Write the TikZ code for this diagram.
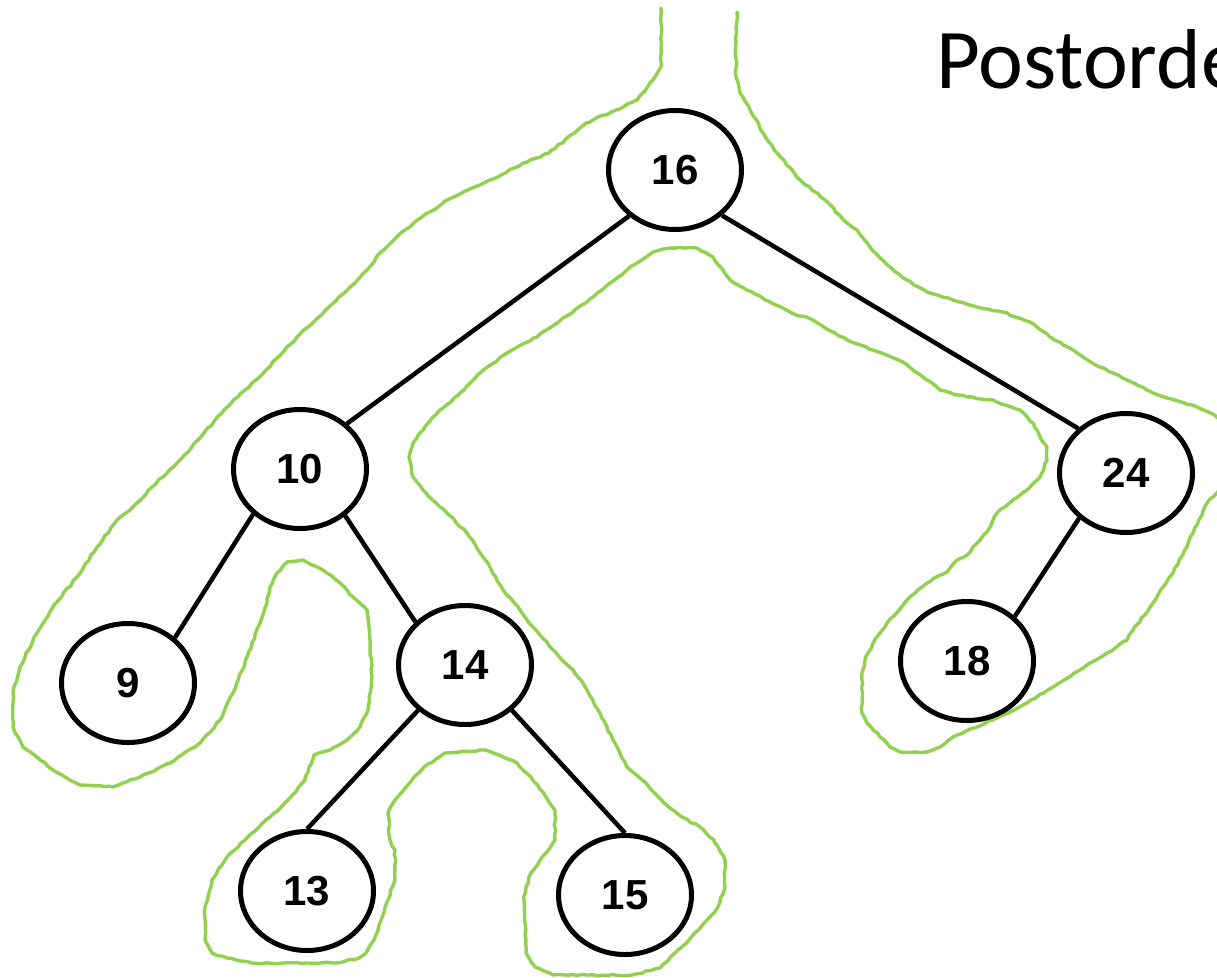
\documentclass[tikz,border=0pt]{standalone}
\usepackage{fontspec}
\setmainfont{Liberation Sans}
\newfontfamily\titlefont{Carlito}
\usetikzlibrary{shapes.geometric,decorations.pathmorphing}
\definecolor{tourgreen}{HTML}{92D050}
\begin{document}
\begin{tikzpicture}[x=1pt,y=-1pt,
  tnode/.style={ellipse,draw=black,line width=5pt,minimum width=133pt,minimum height=119pt,inner sep=0pt,
    font=\bfseries\fontsize{42}{48}\selectfont},
  edge/.style={draw=black,line width=4.5pt},
  tour/.style={draw=tourgreen,line width=3.4pt,line join=round,line cap=round,
    decorate,decoration={random steps,segment length=5pt,amplitude=0.8pt}}]
\pgfmathsetseed{7}
\useasboundingbox (0,0) rectangle (1217,977);
\clip (0,0) rectangle (1217,977);
\fill[white] (0,0) rectangle (1217,977);

% Euler-tour outline
\draw[tour] (661,8) -- (661,67) -- (650,83) -- (637,100) -- (616,110) -- (586,123) -- (549,153) -- (523,163) -- (498,177) -- (468,190) -- (443,203) -- (422,217) -- (405,230) -- (380,253) -- (367,270) -- (350,287) -- (329,307) -- (308,327) -- (287,347) -- (266,370) -- (245,390) -- (224,410) -- (198,440) -- (177,463) -- (152,487) -- (130,510) -- (117,520) -- (97,547) -- (77,577) -- (53,607) -- (33,640) -- (20,667) -- (13,693) -- (13,727) -- (23,747) -- (40,760) -- (53,770) -- (80,785) -- (113,787) -- (140,777) -- (170,763) -- (200,743) -- (220,720) -- (233,693) -- (247,657) -- (260,623) -- (267,603) -- (270,587) -- (277,573) -- (287,562) -- (303,560) -- (323,570) -- (340,583) -- (353,597) -- (367,610) -- (370,640) -- (372,677) -- (368,710) -- (360,727) -- (347,740) -- (330,750) -- (314,755) -- (309,767) -- (305,780) -- (288,800) -- (270,817) -- (259,827) -- (245,840) -- (227,857) -- (212,880) -- (205,907) -- (205,940) -- (212,953) -- (227,958) -- (252,963) -- (334,963) -- (359,958) -- (366,953) -- (374,940) -- (381,920) -- (388,900) -- (395,880) -- (395,850) -- (390,840) -- (388,813) -- (395,800) -- (406,787) -- (424,767) -- (445,753) -- (485,750) -- (503,757) -- (517,763) -- (531,777) -- (546,797) -- (555,810) -- (555,840) -- (546,853) -- (531,873) -- (526,887) -- (524,900) -- (526,953) -- (535,967) -- (553,975) -- (632,975) -- (660,968) -- (675,953) -- (689,940) -- (707,920) -- (718,907) -- (725,887) -- (725,860) -- (714,840) -- (700,827) -- (682,817) -- (664,803) -- (646,783) -- (627,767) -- (613,740) -- (600,713) -- (587,690) -- (573,670) -- (553,650) -- (533,627) -- (520,610) -- (503,590) -- (490,567) -- (480,553) -- (467,533) -- (447,513) -- (423,490) -- (413,477) -- (409,457) -- (413,443) -- (423,430) -- (432,418) -- (443,408) -- (460,393) -- (480,373) -- (507,353) -- (537,337) -- (563,318) -- (587,302) -- (610,283) -- (627,270) -- (653,252) -- (670,248) -- (697,248) -- (713,257) -- (730,280) -- (747,290) -- (770,302) -- (790,312) -- (813,320) -- (847,340) -- (873,350) -- (903,362) -- (940,390) -- (967,397) -- (993,400) -- (1020,410) -- (1033,423) -- (1040,437) -- (1047,447) -- (1047,460) -- (1040,477) -- (1027,490) -- (1013,500) -- (997,513) -- (987,532) -- (980,540) -- (967,555) -- (957,560) -- (947,572) -- (927,583) -- (907,600) -- (887,623) -- (873,643) -- (865,660) -- (862,673) -- (862,713) -- (867,723) -- (880,737) -- (890,747) -- (900,752) -- (927,752) -- (940,747) -- (953,737) -- (993,720) -- (1027,703) -- (1053,687) -- (1080,670) -- (1107,653) -- (1127,640) -- (1133,630) -- (1150,607) -- (1163,587) -- (1173,573) -- (1193,533) -- (1207,503) -- (1217,493) -- (1240,455) -- (1217,417) -- (1197,407) -- (1167,398) -- (1147,390) -- (1127,380) -- (1100,367) -- (1077,353) -- (1050,337) -- (1030,322) -- (1003,312) -- (977,307) -- (953,300) -- (927,292) -- (907,280) -- (890,267) -- (870,247) -- (857,230) -- (847,223) -- (825,200) -- (800,180) -- (777,153) -- (763,133) -- (750,110) -- (740,93) -- (736,77) -- (736,43) -- (737,12);

% tree nodes
\node[tnode] (n16) at (675,170) {16};
\node[tnode] (n10) at (300,469) {10};
\node[tnode] (n9)  at (128,683) {9};
\node[tnode] (n14) at (465,665) {14};
\node[tnode] (n13) at (307,891) {13};
\node[tnode] (n15) at (625,895) {15};
\node[tnode] (n24) at (1126,473) {24};
\node[tnode] (n18) at (967,661) {18};

% edges
\draw[edge] (n16.225) -- (n10.44);
\draw[edge] (n16.316) -- (n24.137);
\draw[edge] (n10.224) -- (n9.44);
\draw[edge] (n10.314) -- (n14.139);
\draw[edge] (n14.224) -- (n13.90);
\draw[edge] (n14.316) -- (n15.90);
\draw[edge] (n24.224) -- (n18.43);

% title
\node[anchor=base west,inner sep=0pt,font=\titlefont\fontsize{85}{100}\selectfont] (title) at (936,88) {Postorde};
\end{tikzpicture}
\end{document}
